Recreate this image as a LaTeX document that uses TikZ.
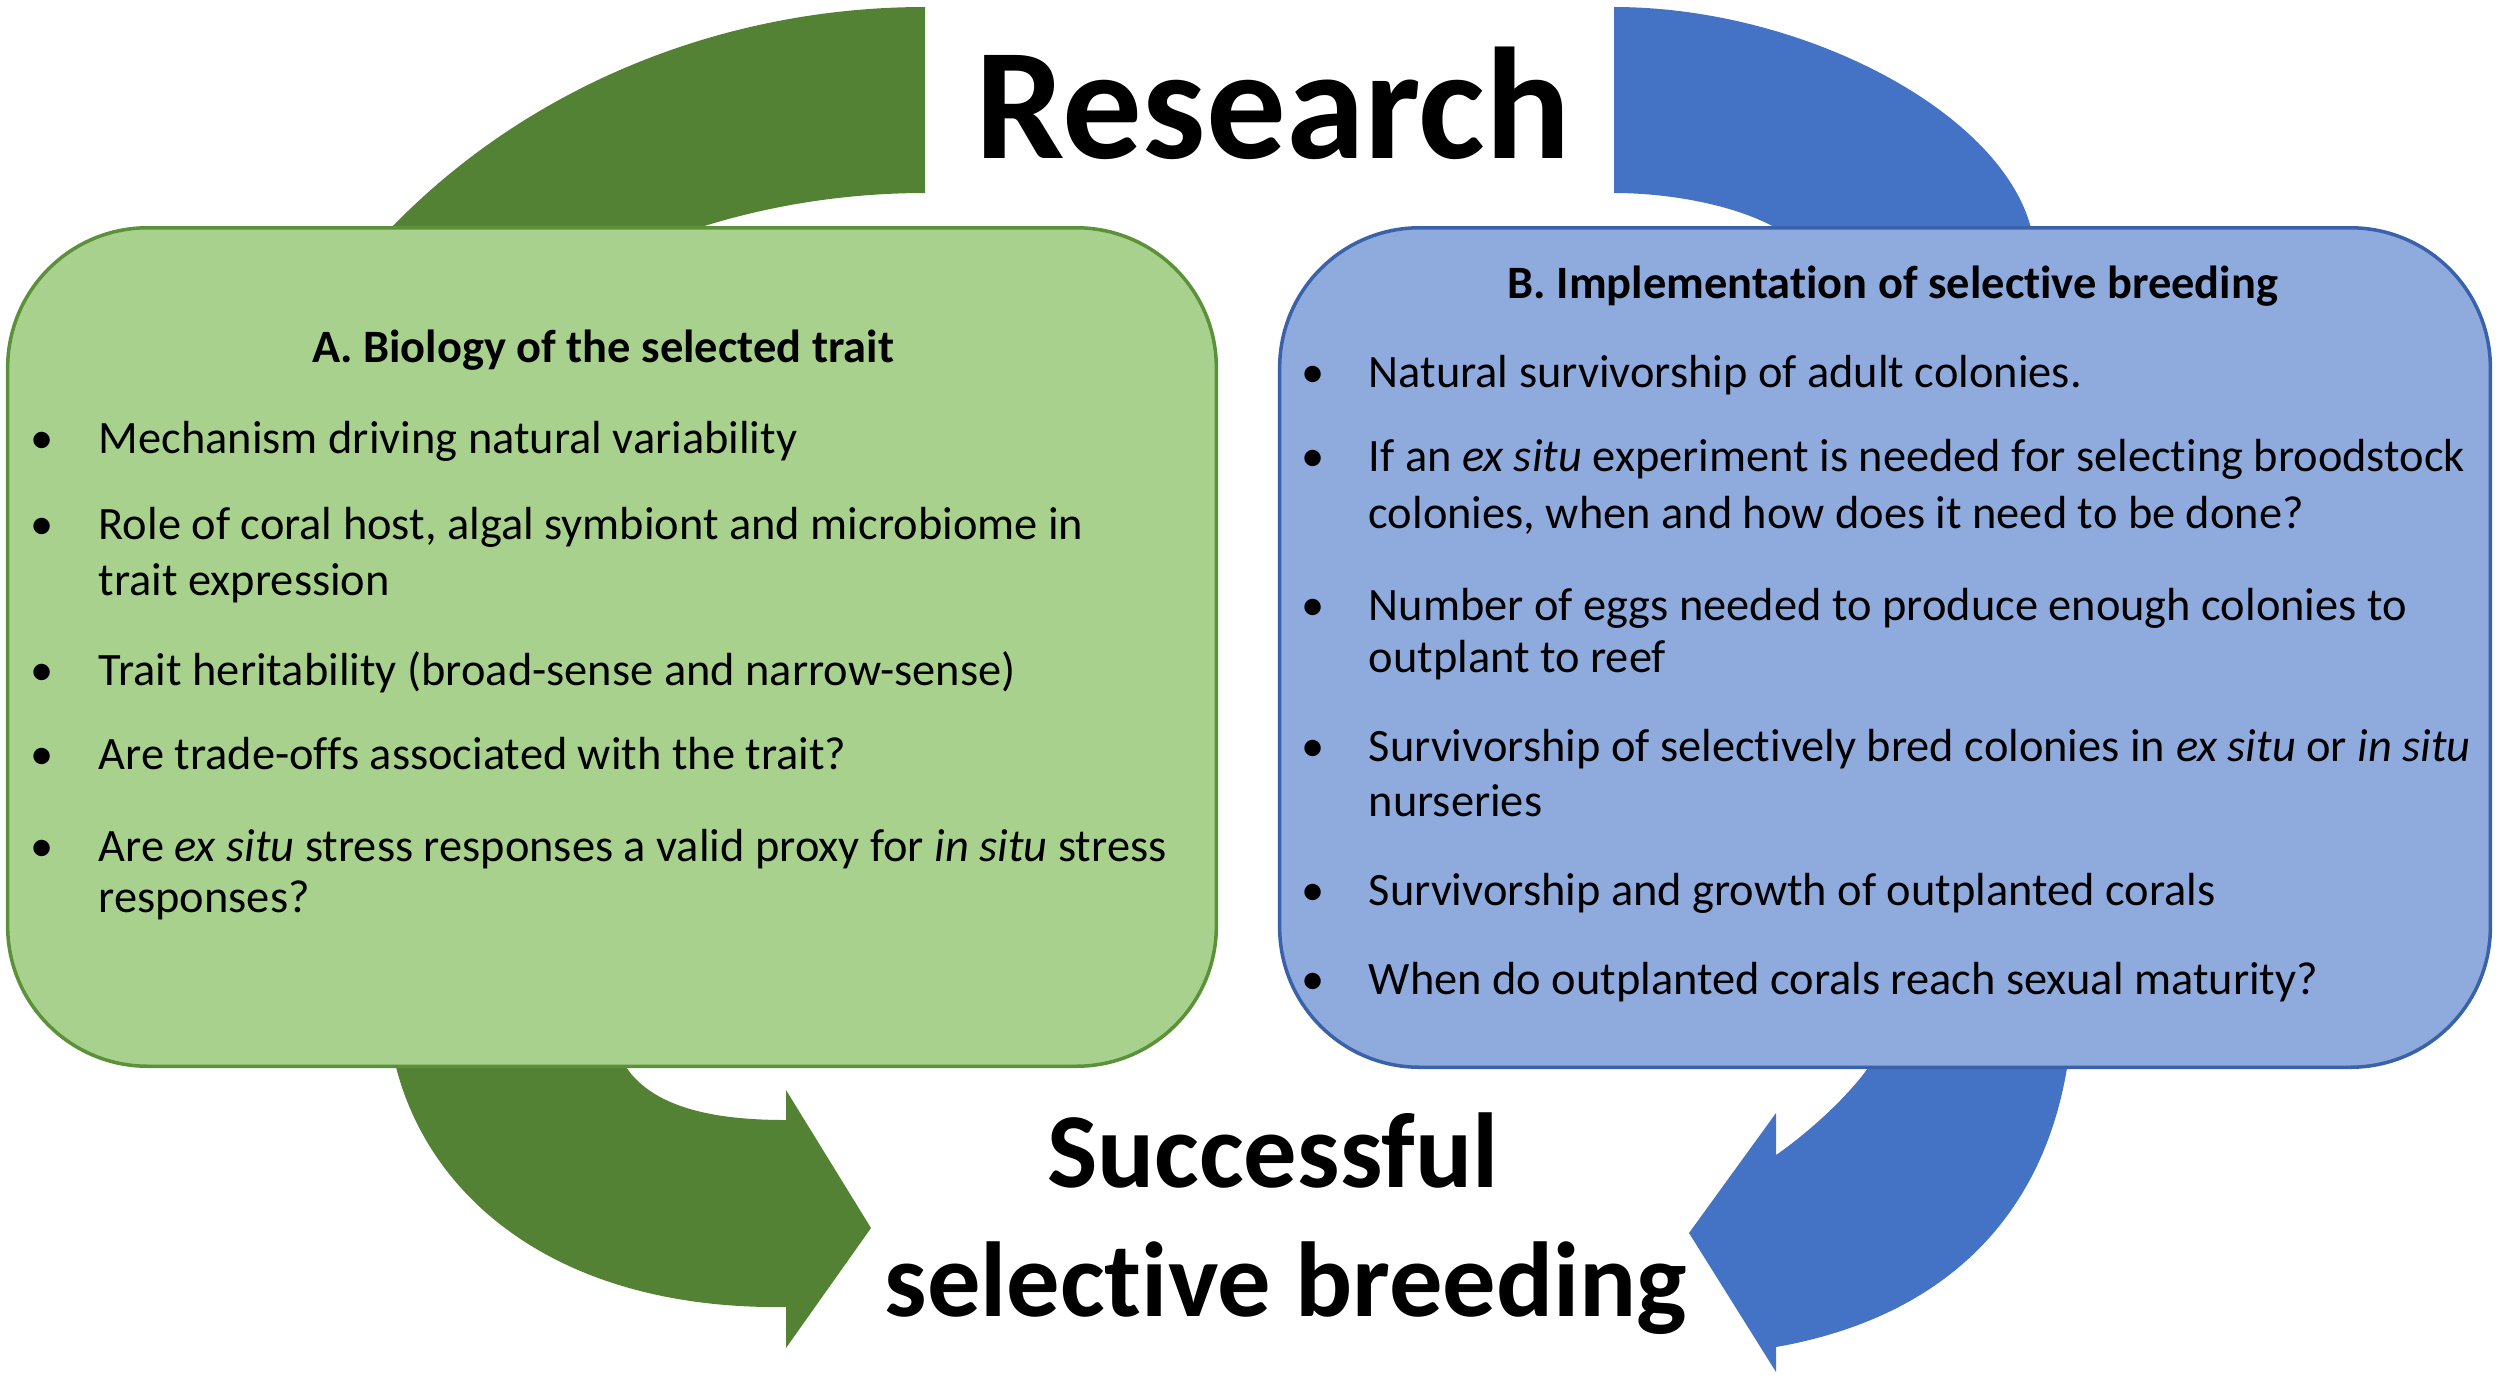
\documentclass[tikz,border=0pt]{standalone}
\usepackage{fontspec}
\setmainfont{Carlito}[Ligatures=NoCommon]
\definecolor{arrgreen}{HTML}{548235}
\definecolor{boxgreen}{HTML}{A9D18E}
\definecolor{linegreen}{HTML}{5B9139}
\definecolor{arrblue}{HTML}{4472C4}
\definecolor{boxblue}{HTML}{8FAADC}
\definecolor{lineblue}{HTML}{3A62AA}
\newcommand{\bodyfont}{\fontsize{13.2}{15.9}\selectfont}
\tikzset{
  roundbox/.style={rectangle, rounded corners=1.4cm, line width=1pt, inner sep=0pt},
  itemtext/.style={anchor=base west, inner sep=0pt, font=\bodyfont},
  bulletmark/.style={anchor=base, inner sep=0pt, font=\bodyfont},
  boxtitle/.style={anchor=base, inner sep=0pt, font=\bodyfont\bfseries},
  bigtext/.style={anchor=base, inner sep=0pt}
}
\begin{document}
\begin{tikzpicture}[x=0.01cm,y=-0.01cm]
\useasboundingbox (0,0) rectangle (2500,1378);
% green circular arrow, top part
\fill[arrgreen] (370,255) -- (391,228) .. controls (526,88) and (720,7) .. (925,7)
  -- (925,193) .. controls (847,193) and (770,205) .. (698,228) -- (650,255) -- cycle;
% green circular arrow, bottom part with head
\fill[arrgreen] (390,1040) -- (396,1067) .. controls (430,1200) and (560,1310) .. (786,1307)
  -- (786,1348) -- (871,1228) -- (786,1090) -- (786,1120)
  .. controls (720,1120) and (655,1110) .. (626,1067) -- (610,1040) -- cycle;
% blue circular arrow, top part
\fill[arrblue] (1614,7) .. controls (1800,7) and (2000,110) .. (2031,228) -- (2040,255)
  -- (1790,255) -- (1776,228) .. controls (1735,205) and (1670,193) .. (1614,193) -- cycle;
% blue circular arrow, bottom part with head
\fill[arrblue] (2075,1040) -- (2067,1068) .. controls (2040,1230) and (1930,1320) .. (1776,1347)
  -- (1776,1372) -- (1689,1233) -- (1776,1113) -- (1776,1155)
  .. controls (1805,1135) and (1845,1100) .. (1868,1068) -- (1885,1040) -- cycle;
% boxes
\node[roundbox, draw=linegreen, fill=boxgreen, minimum width=12.08cm, minimum height=8.38cm] (boxA) at (612,647) {};
\node[roundbox, draw=lineblue, fill=boxblue, minimum width=12.1cm, minimum height=8.39cm] (boxB) at (1885,647.5) {};
% big texts
\node[bigtext, font=\fontsize{45.2}{54}\selectfont\bfseries] (research) at (1273,158) {Research};
\node[bigtext, font=\fontsize{30.3}{36}\selectfont\bfseries] (succ1) at (1273,1187) {Successful};
\node[bigtext, font=\fontsize{30.3}{36}\selectfont\bfseries] (succ2) at (1286,1316) {selective breeding};
% box A
\node[boxtitle] (titleA) at (603,362) {A. Biology of the selected trait};
\node[bulletmark] (ba1) at (42,453) {•};
\node[itemtext] (ta1) at (98,453) {Mechanism driving natural variability};
\node[bulletmark] (ba2) at (42,539) {•};
\node[itemtext] (ta2) at (98,539) {Role of coral host, algal symbiont and microbiome in};
\node[itemtext] (ta2b) at (98,595) {trait expression};
\node[bulletmark] (ba3) at (42,685) {•};
\node[itemtext] (ta3) at (98,685) {Trait heritability (broad-sense and narrow-sense)};
\node[bulletmark] (ba4) at (42,769) {•};
\node[itemtext] (ta4) at (98,769) {Are trade-offs associated with the trait?};
\node[bulletmark] (ba5) at (42,861) {•};
\node[itemtext] (ta5) at (98,861) {Are \textit{ex situ} stress responses a valid proxy for \textit{in situ} stress};
\node[itemtext] (ta5b) at (98,912) {responses?};
% box B
\node[boxtitle] (titleB) at (1893,298) {B. Implementation of selective breeding};
\node[bulletmark] (bb1) at (1313,387) {•};
\node[itemtext] (tb1) at (1368,387) {Natural survivorship of adult colonies.};
\node[bulletmark] (bb2) at (1313,471) {•};
\node[itemtext] (tb2) at (1368,471) {If an \textit{ex situ} experiment is needed for selecting broodstock};
\node[itemtext] (tb2b) at (1368,528) {colonies, when and how does it need to be done?};
\node[bulletmark] (bb3) at (1313,620) {•};
\node[itemtext] (tb3) at (1368,620) {Number of eggs needed to produce enough colonies to};
\node[itemtext] (tb3b) at (1368,672) {outplant to reef};
\node[bulletmark] (bb4) at (1313,761) {•};
\node[itemtext] (tb4) at (1368,761) {Survivorship of selectively bred colonies in \textit{ex situ} or \textit{in situ}};
\node[itemtext] (tb4b) at (1368,816) {nurseries};
\node[bulletmark] (bb5) at (1313,905) {•};
\node[itemtext] (tb5) at (1368,905) {Survivorship and growth of outplanted corals};
\node[bulletmark] (bb6) at (1313,994) {•};
\node[itemtext] (tb6) at (1368,994) {When do outplanted corals reach sexual maturity?};
\end{tikzpicture}
\end{document}
